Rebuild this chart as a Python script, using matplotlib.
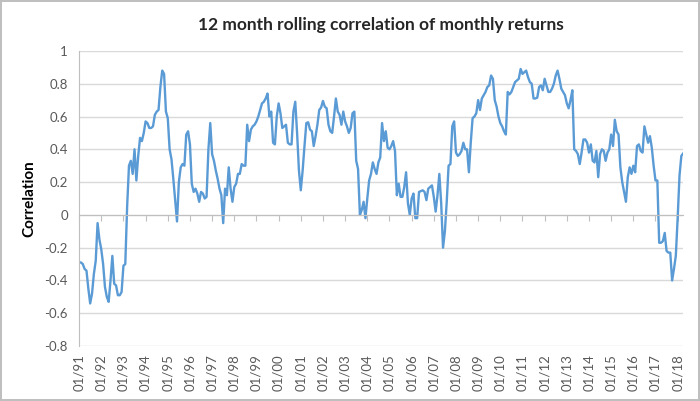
import numpy as np
import pandas as pd
import matplotlib
matplotlib.use("Agg")
import matplotlib.pyplot as plt

# 12 month rolling correlation, monthly from 01/91
corr = [
    -0.29, -0.29, -0.30, -0.33, -0.34, -0.45, -0.54, -0.48, -0.36, -0.28, -0.05, -0.15,
    -0.21, -0.30, -0.44, -0.50, -0.53, -0.40, -0.25, -0.42, -0.43, -0.49, -0.49, -0.47,
    -0.31, -0.30, 0.05, 0.30, 0.33, 0.25, 0.40, 0.21, 0.36, 0.47, 0.45, 0.50,
    0.57, 0.56, 0.53, 0.53, 0.54, 0.61, 0.63, 0.64, 0.78, 0.88, 0.86, 0.63,
    0.59, 0.40, 0.34, 0.22, 0.09, -0.04, 0.20, 0.29, 0.31, 0.30, 0.49, 0.51,
    0.43, 0.19, 0.14, 0.16, 0.13, 0.08, 0.14, 0.13, 0.10, 0.11, 0.40, 0.56,
    0.37, 0.33, 0.27, 0.22, 0.16, 0.12, -0.05, 0.16, 0.12, 0.29, 0.16, 0.08,
    0.17, 0.19, 0.25, 0.25, 0.31, 0.30, 0.30, 0.55, 0.45, 0.52, 0.54, 0.55,
    0.57, 0.60, 0.64, 0.68, 0.69, 0.71, 0.74, 0.60, 0.63, 0.44, 0.43, 0.60,
    0.68, 0.62, 0.53, 0.54, 0.55, 0.44, 0.43, 0.43, 0.63, 0.69, 0.50, 0.27,
    0.15, 0.27, 0.42, 0.56, 0.565, 0.52, 0.51, 0.42, 0.48, 0.55, 0.64, 0.655,
    0.695, 0.66, 0.65, 0.55, 0.51, 0.50, 0.60, 0.71, 0.63, 0.61, 0.55, 0.63,
    0.57, 0.54, 0.50, 0.53, 0.62, 0.63, 0.33, 0.28, 0.00, 0.03, 0.08, -0.02,
    0.10, 0.21, 0.25, 0.32, 0.28, 0.25, 0.32, 0.35, 0.56, 0.45, 0.51, 0.41,
    0.40, 0.42, 0.45, 0.39, 0.12, 0.19, 0.11, 0.11, 0.17, 0.26, 0.07, 0.00,
    0.10, 0.13, -0.02, -0.02, 0.14, 0.145, 0.15, 0.14, 0.09, 0.16, 0.17, 0.18,
    0.11, 0.02, 0.12, 0.25, 0.07, -0.20, -0.10, 0.08, 0.30, 0.31, 0.54, 0.57,
    0.38, 0.36, 0.37, 0.39, 0.44, 0.40, 0.40, 0.26, 0.44, 0.59, 0.60, 0.62,
    0.70, 0.64, 0.71, 0.73, 0.75, 0.78, 0.79, 0.85, 0.83, 0.70, 0.66, 0.60,
    0.56, 0.54, 0.51, 0.49, 0.75, 0.735, 0.75, 0.78, 0.81, 0.82, 0.83, 0.89,
    0.86, 0.87, 0.88, 0.84, 0.81, 0.80, 0.71, 0.71, 0.715, 0.78, 0.79, 0.76,
    0.83, 0.79, 0.75, 0.75, 0.77, 0.80, 0.85, 0.88, 0.83, 0.77, 0.75, 0.73,
    0.68, 0.65, 0.70, 0.76, 0.40, 0.39, 0.37, 0.31, 0.38, 0.46, 0.46, 0.44,
    0.38, 0.43, 0.33, 0.32, 0.39, 0.23, 0.37, 0.40, 0.39, 0.33, 0.38, 0.40,
    0.49, 0.42, 0.58, 0.51, 0.49, 0.29, 0.20, 0.14, 0.08, 0.23, 0.29, 0.25,
    0.30, 0.26, 0.42, 0.43, 0.39, 0.38, 0.54, 0.49, 0.44, 0.48, 0.41, 0.30,
    0.21, 0.21, -0.17, -0.17, -0.16, -0.11, -0.22, -0.23, -0.23, -0.40, -0.33, -0.25,
    -0.02, 0.24, 0.36, 0.375,
]

months = pd.date_range("1991-01-01", periods=len(corr), freq="MS")
labels = months.strftime("%m/%y")
yticks = [-0.8, -0.6, -0.4, -0.2, 0, 0.2, 0.4, 0.6, 0.8, 1]
ytick_labels = ["-0.8", "-0.6", "-0.4", "-0.2", "0", "0.2", "0.4", "0.6", "0.8", "1"]

plt.rcParams['font.family'] = ['Lato', 'DejaVu Sans']
txt = '#595959'

fig = plt.figure(figsize=(7, 4.01), dpi=100, edgecolor='#bfbfbf', linewidth=1.5)
ax = fig.add_axes([0.113, 0.137, 0.863, 0.736])

x = np.arange(len(corr))
ax.plot(x, corr, color='#5b9bd5', linewidth=1.7)

ax.set_xlim(0, len(corr) - 1)
ax.set_ylim(-0.8, 1)
ax.set_yticks(yticks)
ax.set_yticklabels(ytick_labels)
ax.tick_params(axis='y', length=0, pad=8, labelsize=9.5, labelcolor=txt)
ax.grid(axis='y', color='#d9d9d9', linewidth=1)
ax.set_axisbelow(True)

for s in ['top', 'right']:
    ax.spines[s].set_visible(False)
ax.spines['left'].set_color('#bfbfbf')
ax.spines['bottom'].set_position(('data', 0))
ax.spines['bottom'].set_color('#bfbfbf')

yearly = x[::12]
ax.set_xticks(yearly)
ax.tick_params(axis='x', direction='out', length=4, color='#bfbfbf', labelbottom=False)

sec = ax.secondary_xaxis(0.0)
sec.set_xticks(yearly)
sec.set_xticklabels(labels[::12], rotation=90)
sec.tick_params(length=0, pad=6, labelsize=9.5, labelcolor=txt)
sec.spines['bottom'].set_visible(False)

ax.set_ylabel("Correlation", fontsize=11, fontweight='bold', color='black', labelpad=6)
ax.set_title("12 month rolling correlation of monthly returns", fontsize=12.5,
             fontweight='bold', color='#262626', pad=15)

fig.savefig("out.png", dpi=100, edgecolor=fig.get_edgecolor())
